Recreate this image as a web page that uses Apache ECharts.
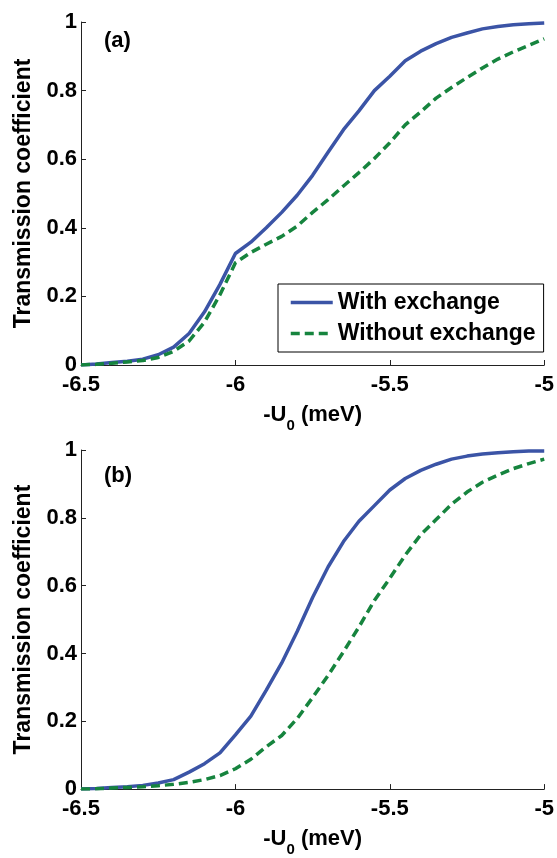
<!DOCTYPE html>
<html>
<head>
<meta charset="utf-8">
<script src="https://cdn.jsdelivr.net/npm/echarts@6/dist/echarts.min.js"></script>
<style>
  html, body { margin: 0; padding: 0; background: #fff; }
  #chart { width: 557px; height: 858px; }
</style>
</head>
<body>
<div id="chart"></div>
<script>
// -U0 (meV) sample points, shared by all four curves
const u0 = [-6.5, -6.45, -6.4, -6.35, -6.3, -6.25, -6.2, -6.15, -6.1, -6.05, -6.0,
  -5.95, -5.9, -5.85, -5.8, -5.75, -5.7, -5.65, -5.6, -5.55, -5.5,
  -5.45, -5.4, -5.35, -5.3, -5.25, -5.2, -5.15, -5.1, -5.05, -5.0];

// panel (a)
const withExA = [0, 0.003, 0.007, 0.011, 0.017, 0.03, 0.052, 0.092, 0.155, 0.235, 0.325,
  0.358, 0.4, 0.445, 0.495, 0.553, 0.62, 0.686, 0.741, 0.8, 0.842,
  0.887, 0.915, 0.937, 0.955, 0.968, 0.98, 0.987, 0.992, 0.995, 0.997];
const withoutExA = [0, 0.002, 0.005, 0.009, 0.013, 0.022, 0.04, 0.07, 0.125, 0.205, 0.298,
  0.328, 0.352, 0.375, 0.405, 0.445, 0.482, 0.522, 0.561, 0.602, 0.648,
  0.7, 0.738, 0.778, 0.809, 0.838, 0.866, 0.892, 0.913, 0.932, 0.951];

// panel (b)
const withExB = [0, 0.002, 0.005, 0.007, 0.011, 0.018, 0.028, 0.05, 0.075, 0.107, 0.16,
  0.215, 0.292, 0.372, 0.465, 0.565, 0.655, 0.73, 0.79, 0.836, 0.882,
  0.916, 0.94, 0.958, 0.973, 0.982, 0.988, 0.992, 0.995, 0.997, 0.997];
const withoutExB = [0, 0.001, 0.003, 0.005, 0.007, 0.01, 0.014, 0.02, 0.028, 0.04, 0.06,
  0.088, 0.125, 0.158, 0.208, 0.27, 0.335, 0.405, 0.478, 0.556, 0.622,
  0.69, 0.75, 0.795, 0.84, 0.876, 0.905, 0.926, 0.945, 0.96, 0.973];

const seriesNames = ["With exchange", "Without exchange"];
const xTicks = { min: -6.5, max: -5, interval: 0.5 };
const yTicks = { min: 0, max: 1, interval: 0.2 };
const panelLabels = ["(a)", "(b)"];

const font = "'Liberation Sans', Arial, Helvetica, sans-serif";
const blue = "#3b54a6";
const green = "#16843e";

const pair = (xs, ys) => xs.map((x, i) => [x, ys[i]]);

function xAxis(gridIndex) {
  return {
    type: "value",
    gridIndex: gridIndex,
    min: xTicks.min,
    max: xTicks.max,
    interval: xTicks.interval,
    name: "-U{s|0} (meV)",
    nameLocation: "middle",
    nameGap: 23,
    nameTextStyle: {
      color: "#000",
      fontFamily: font,
      fontWeight: "bold",
      fontSize: 22,
      lineHeight: 22,
      rich: {
        s: { fontFamily: font, fontWeight: "bold", fontSize: 15, verticalAlign: "bottom", lineHeight: 36 }
      }
    },
    axisLine: { onZero: false, lineStyle: { color: "#222", width: 1 } },
    axisTick: { inside: true, length: 5, lineStyle: { color: "#222" } },
    axisLabel: { color: "#000", fontFamily: font, fontWeight: "bold", fontSize: 22, margin: 9 },
    splitLine: { show: false }
  };
}

function yAxis(gridIndex) {
  return {
    type: "value",
    gridIndex: gridIndex,
    min: yTicks.min,
    max: yTicks.max,
    interval: yTicks.interval,
    name: "Transmission coefficient",
    nameLocation: "middle",
    nameGap: 45,
    nameTextStyle: { color: "#000", fontFamily: font, fontWeight: "bold", fontSize: 23 },
    axisLine: { onZero: false, lineStyle: { color: "#222", width: 1 } },
    axisTick: { inside: true, length: 5, lineStyle: { color: "#222" } },
    axisLabel: { color: "#000", fontFamily: font, fontWeight: "bold", fontSize: 22, margin: 4 },
    splitLine: { show: false }
  };
}

function line(name, idx, data, color, dashed) {
  return {
    name: name,
    type: "line",
    xAxisIndex: idx,
    yAxisIndex: idx,
    data: data,
    symbol: "none",
    smooth: false,
    lineStyle: { color: color, width: 3.5, type: dashed ? [9, 5] : "solid" },
    itemStyle: { color: color },
    z: dashed ? 3 : 2
  };
}

const chart = echarts.init(document.getElementById("chart"));
chart.setOption({
  backgroundColor: "#fff",
  animation: false,
  title: [
    { text: panelLabels[0], left: 99, top: 25, textStyle: { fontFamily: font, fontWeight: "bold", fontSize: 22, color: "#000" } },
    { text: panelLabels[1], left: 99, top: 460, textStyle: { fontFamily: font, fontWeight: "bold", fontSize: 22, color: "#000" } }
  ],
  grid: [
    { left: 81, right: 8, top: 22, height: 343 },
    { left: 81, right: 8, top: 450, height: 349 }
  ],
  legend: {
    data: seriesNames,
    orient: "vertical",
    left: 278,
    top: 284,
    padding: [7, 8, 7, 11],
    itemGap: 8,
    itemWidth: 42,
    itemHeight: 14,
    itemStyle: { opacity: 0 },
    lineStyle: { width: 3.5 },
    borderColor: "#000",
    borderWidth: 1,
    borderRadius: 0,
    backgroundColor: "#fff",
    textStyle: { color: "#000", fontFamily: font, fontWeight: "bold", fontSize: 23 }
  },
  xAxis: [xAxis(0), xAxis(1)],
  yAxis: [yAxis(0), yAxis(1)],
  series: [
    line(seriesNames[0], 0, pair(u0, withExA), blue, false),
    line(seriesNames[1], 0, pair(u0, withoutExA), green, true),
    line(seriesNames[0], 1, pair(u0, withExB), blue, false),
    line(seriesNames[1], 1, pair(u0, withoutExB), green, true)
  ]
});
</script>
</body>
</html>
